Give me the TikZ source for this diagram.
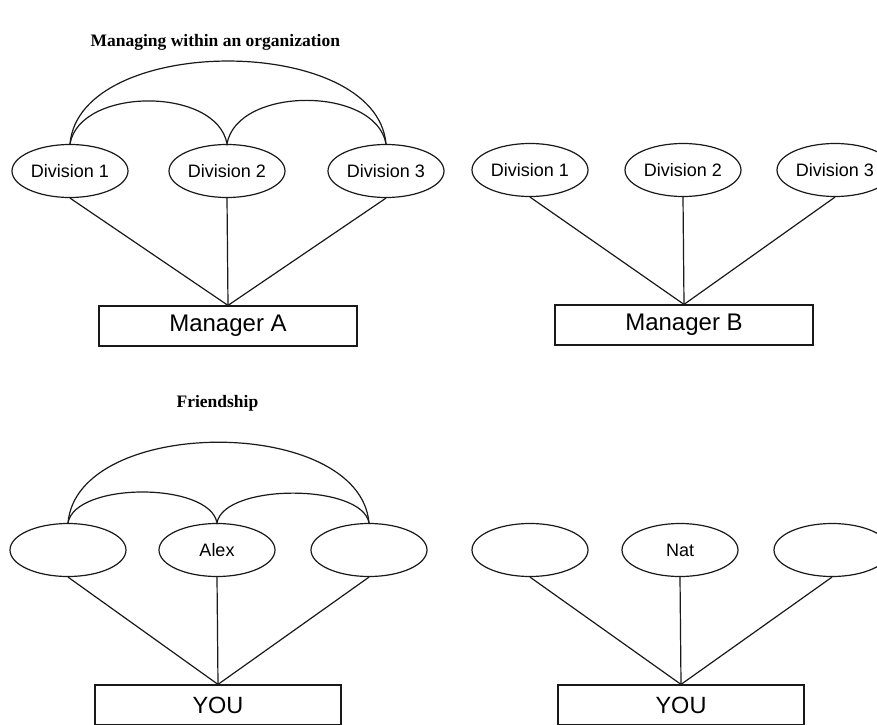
\documentclass[tikz,border=0pt]{standalone}
\usepackage{fontspec}
\setmainfont{Liberation Serif}
\setsansfont{Liberation Sans}
\usetikzlibrary{shapes.geometric}

\begin{document}
\begin{tikzpicture}[x=1pt,y=1pt,line width=1.2pt,draw=black!90,
  every node/.style={inner sep=0pt},
  unit/.style={ellipse,draw,minimum width=116pt,minimum height=53pt,font=\sffamily\fontsize{18}{20}\selectfont},
  boss/.style={rectangle,draw,minimum width=258pt,minimum height=40pt,font=\sffamily\fontsize{24}{26}\selectfont},
  self/.style={boss,minimum width=246pt,font=\sffamily\fontsize{23.5}{26}\selectfont},
  heading/.style={anchor=base west,font=\bfseries\fontsize{17.5}{20}\selectfont}]
  \clip (0,0) rectangle (877,724);
  \node [heading] (managing) at (90,677) {Managing within an organization};
  \node [heading] (friendship) at (176,317) {Friendship};
  % manager A
  \node [unit] (a1) at (70,553) {Division 1};
  \node [unit] (a2) at (227,553) {Division 2};
  \node [unit] (a3) at (386,553) {Division 3};
  \node [boss] (ma) at (228,398) {Manager A};
  \draw (a1.south) -- (ma.north);
  \draw (a2.south) -- (ma.north);
  \draw (a3.south) -- (ma.north);
  \draw (a1.north) to[out=85,in=95,looseness=0.9] (a3.north);
  \draw (a1.north) to[out=80,in=100,looseness=0.95] (a2.north) to[out=80,in=100,looseness=0.95] (a3.north);
  % manager B
  \node [unit] (b1) at (530,554) {Division 1};
  \node [unit] (b2) at (683,554) {Division 2};
  \node [unit] (b3) at (835,554) {Division 3};
  \node [boss] (mb) at (684,399) {Manager B};
  \draw (b1.south) -- (mb.north);
  \draw (b2.south) -- (mb.north);
  \draw (b3.south) -- (mb.north);
  % friendship, closed circle
  \node [unit] (c1) at (68,174) {};
  \node [unit] (c2) at (217,174) {Alex};
  \node [unit] (c3) at (369,174) {};
  \node [self] (ya) at (218,19) {YOU};
  \draw (c1.south) -- (ya.north);
  \draw (c2.south) -- (ya.north);
  \draw (c3.south) -- (ya.north);
  \draw (c1.north) to[out=85,in=95,looseness=0.92] (c3.north);
  \draw (c1.north) to[out=80,in=100,looseness=0.72] (c2.north) to[out=80,in=100,looseness=0.68] (c3.north);
  % friendship, open
  \node [unit] (d1) at (530,174) {};
  \node [unit] (d2) at (680,174) {Nat};
  \node [unit] (d3) at (832,174) {};
  \node [self] (yb) at (681,19) {YOU};
  \draw (d1.south) -- (yb.north);
  \draw (d2.south) -- (yb.north);
  \draw (d3.south) -- (yb.north);
\end{tikzpicture}
\end{document}
